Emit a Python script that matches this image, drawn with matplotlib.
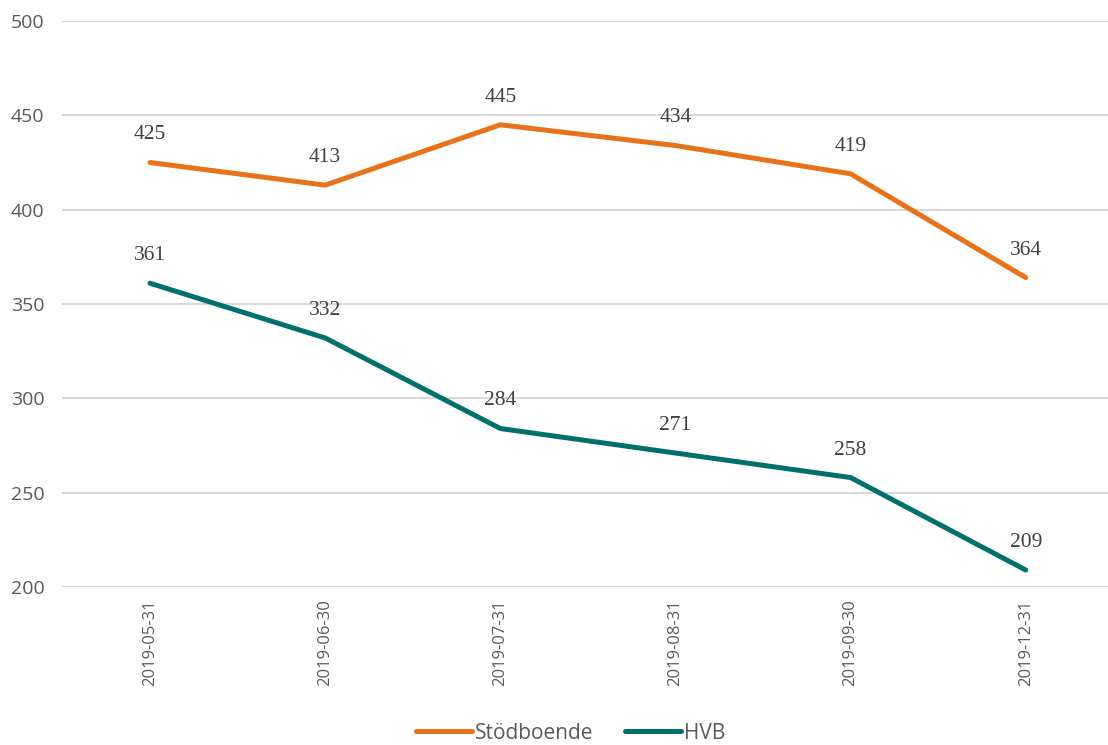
import matplotlib
matplotlib.use("Agg")
import matplotlib.pyplot as plt

dates = ["2019-05-31", "2019-06-30", "2019-07-31", "2019-08-31", "2019-09-30", "2019-12-31"]
stodboende = [425, 413, 445, 434, 419, 364]
hvb = [361, 332, 284, 271, 258, 209]

c_orange = "#E8711A"
c_teal = "#00706E"
txt = "#595959"

fig = plt.figure(figsize=(11.08, 7.45), dpi=100)
ax = fig.add_axes([0.0564, 0.2121, 0.9436, 0.7597])

x = range(len(dates))
ax.plot(x, stodboende, color=c_orange, lw=3.6, solid_capstyle="round", label="Stödboende")
ax.plot(x, hvb, color=c_teal, lw=3.6, solid_capstyle="round", label="HVB")

# data labels above each point
for series in (stodboende, hvb):
    for xi, v in zip(x, series):
        ax.annotate(str(v), (xi, v), xytext=(0, 13), textcoords="offset points",
                    ha="center", va="bottom", fontsize=15.5, family="Liberation Serif", color="#404040")

ax.set_ylim(200, 500)
ax.set_yticks(range(200, 501, 50))
ax.set_xlim(-0.5, 5.47)
ax.set_xticks(list(x))
ax.set_xticklabels(dates, rotation=90, fontsize=12, color=txt, family="Open Sans")
for lab in ax.get_yticklabels():
    lab.set_fontsize(14)
    lab.set_color(txt)
    lab.set_family("Open Sans")
ax.tick_params(length=0)
ax.tick_params(axis="x", pad=9)
ax.tick_params(axis="y", pad=13)

ax.grid(axis="y", color="#D9D9D9", lw=1.5)
ax.set_axisbelow(True)
for s in ax.spines.values():
    s.set_visible(False)

leg = fig.legend(loc="center", bbox_to_anchor=(0.515, 0.016), ncol=2, frameon=False,
                 prop={"family": "Open Sans", "size": 15}, handlelength=2.7,
                 columnspacing=1.5, handletextpad=0.15)
for t in leg.get_texts():
    t.set_color(txt)

fig.savefig("out.png", dpi=100)
